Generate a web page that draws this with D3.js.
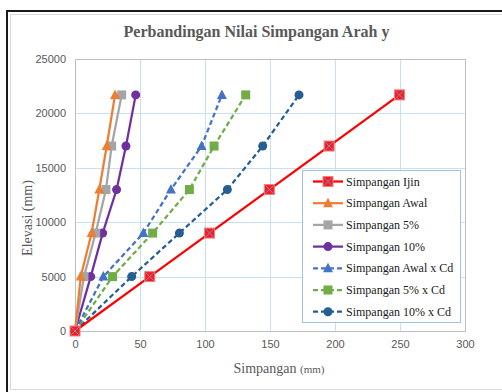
<!DOCTYPE html>
<html>
<head>
<meta charset="utf-8">
<script src="https://cdn.jsdelivr.net/npm/d3@7"></script>
<style>
  html, body { margin: 0; padding: 0; background: #fff; }
  svg { display: block; }
</style>
</head>
<body>
<script>
// Elevation levels (mm) and drift per series (mm)
const elevasi = [0, 5000, 9000, 13000, 17000, 21700];
const simpanganIjin = [0, 57.5, 103.5, 149.5, 195.5, 249.6];
const simpanganAwal = [0, 4.4, 12.8, 18.7, 24.4, 30.8];
const simpangan5 = [0, 6.9, 15.9, 23.8, 28.2, 35.9];
const simpangan10 = [0, 12.1, 21.3, 32.0, 39.2, 46.7];
const simpanganAwalCd = [0, 21.8, 52.6, 73.8, 97.4, 113.0];
const simpangan5Cd = [0, 28.9, 59.7, 88.0, 107.0, 131.3];
const simpangan10Cd = [0, 43.6, 80.3, 117.2, 144.4, 172.3];

const xTicks = [0, 50, 100, 150, 200, 250, 300];
const yTicks = [0, 5000, 10000, 15000, 20000, 25000];

const seriesNames = ["Simpangan Ijin", "Simpangan Awal", "Simpangan 5%", "Simpangan 10%",
  "Simpangan Awal x Cd", "Simpangan 5% x Cd", "Simpangan 10% x Cd"];
const seriesValues = [simpanganIjin, simpanganAwal, simpangan5, simpangan10,
  simpanganAwalCd, simpangan5Cd, simpangan10Cd];
const seriesColors = ["#ff0000", "#ed7d31", "#a5a5a5", "#7030a0", "#4472c4", "#70ad47", "#255e91"];
const seriesMarkers = ["squareX", "triangle", "square", "circle", "triangle", "square", "circle"];
const seriesDashed = [false, false, false, false, true, true, true];

const W = 502, H = 392;
const plot = { left: 75, right: 465, top: 59, bottom: 331 };

const svg = d3.select("body").append("svg").attr("width", W).attr("height", H);

// Surrounding frame
svg.append("rect").attr("width", W).attr("height", H).attr("fill", "#fff");
svg.append("line").attr("x1", 10.5).attr("x2", 10.5).attr("y1", 14).attr("y2", 389.5)
  .attr("stroke", "#d9d9d9").attr("stroke-width", 1);
svg.append("line").attr("x1", 10.5).attr("x2", W).attr("y1", 14.5).attr("y2", 14.5)
  .attr("stroke", "#d9d9d9").attr("stroke-width", 1);
svg.append("line").attr("x1", 10.5).attr("x2", W).attr("y1", 389.5).attr("y2", 389.5)
  .attr("stroke", "#d9d9d9").attr("stroke-width", 1);
svg.append("line").attr("x1", 7).attr("x2", 7).attr("y1", 10).attr("y2", H)
  .attr("stroke", "#1a1a1a").attr("stroke-width", 2);
svg.append("line").attr("x1", 6).attr("x2", W).attr("y1", 11).attr("y2", 11)
  .attr("stroke", "#1a1a1a").attr("stroke-width", 2);

const x = d3.scaleLinear().domain([0, 300]).range([plot.left, plot.right]);
const y = d3.scaleLinear().domain([0, 25000]).range([plot.bottom, plot.top]);

// Gridlines
const grid = svg.append("g");
grid.selectAll("line.v").data(xTicks.slice(1, -1)).join("line")
  .attr("x1", d => Math.round(x(d)) + 0.5).attr("x2", d => Math.round(x(d)) + 0.5)
  .attr("y1", plot.top).attr("y2", plot.bottom)
  .attr("stroke", "#c9dff2").attr("stroke-width", 1);
grid.selectAll("line.h").data(yTicks.slice(1, -1)).join("line")
  .attr("y1", d => Math.round(y(d)) + 0.5).attr("y2", d => Math.round(y(d)) + 0.5)
  .attr("x1", plot.left).attr("x2", plot.right)
  .attr("stroke", "#c9dff2").attr("stroke-width", 1);

// Plot area border
svg.append("rect")
  .attr("x", plot.left + 0.5).attr("y", plot.top + 0.5)
  .attr("width", plot.right - plot.left).attr("height", plot.bottom - plot.top)
  .attr("fill", "none").attr("stroke", "#bfbfbf").attr("stroke-width", 1);

// Axes
const xAxis = d3.axisBottom(x).tickValues(xTicks).tickFormat(d3.format("d")).tickSize(0).tickPadding(9);
const gx = svg.append("g").attr("transform", `translate(0,${plot.bottom})`).call(xAxis);
gx.select(".domain").remove();
gx.selectAll("text").attr("fill", "#595959").attr("font-family", "Liberation Sans, Arial, sans-serif").attr("font-size", 11);

const yAxis = d3.axisLeft(y).tickValues(yTicks).tickFormat(d3.format("d")).tickSize(0).tickPadding(9);
const gy = svg.append("g").attr("transform", `translate(${plot.left},0)`).call(yAxis);
gy.select(".domain").remove();
gy.selectAll("text").attr("fill", "#595959").attr("font-family", "Liberation Sans, Arial, sans-serif").attr("font-size", 11);

// Title
svg.append("text").attr("x", 256.5).attr("y", 37).attr("text-anchor", "middle")
  .attr("font-family", "Liberation Serif, Times New Roman, serif")
  .attr("font-weight", "bold").attr("font-size", 16).attr("fill", "#595959")
  .text("Perbandingan Nilai Simpangan Arah y");

// Axis titles
const xt = svg.append("text").attr("x", 279).attr("y", 373).attr("text-anchor", "middle")
  .attr("font-family", "Liberation Serif, Times New Roman, serif").attr("fill", "#595959");
xt.append("tspan").attr("font-size", 14).text("Simpangan ");
xt.append("tspan").attr("font-size", 11).text("(mm)");

svg.append("text").attr("transform", "translate(32,218) rotate(-90)").attr("text-anchor", "middle")
  .attr("font-family", "Liberation Serif, Times New Roman, serif").attr("font-size", 14)
  .attr("fill", "#595959").text("Elevasi (mm)");

// Marker drawing
function drawMarker(g, type, color, cx, cy) {
  if (type === "squareX") {
    g.append("rect").attr("x", cx - 5).attr("y", cy - 5).attr("width", 10).attr("height", 10)
      .attr("fill", "#ff1a1a").attr("stroke", "#f08080").attr("stroke-width", 1);
    g.append("path").attr("d", `M${cx - 4},${cy - 4}L${cx + 4},${cy + 4}M${cx - 4},${cy + 4}L${cx + 4},${cy - 4}`)
      .attr("stroke", "#6a8fd8").attr("stroke-width", 1);
  } else if (type === "square") {
    g.append("rect").attr("x", cx - 4.5).attr("y", cy - 4.5).attr("width", 9).attr("height", 9)
      .attr("fill", color);
  } else if (type === "circle") {
    g.append("circle").attr("cx", cx).attr("cy", cy).attr("r", 4.5).attr("fill", color);
  } else if (type === "triangle") {
    g.append("path").attr("d", `M${cx},${cy - 5.5}L${cx + 5},${cy + 4}L${cx - 5},${cy + 4}Z`)
      .attr("fill", color);
  }
}

// Series (drawn last-first so the first series sits on top)
const line = d3.line().x(d => x(d[0])).y(d => y(d[1]));
const order = [6, 5, 4, 3, 2, 1, 0];
order.forEach(i => {
  const pts = seriesValues[i].map((v, k) => [v, elevasi[k]]);
  const g = svg.append("g");
  g.append("path").datum(pts).attr("d", line).attr("fill", "none")
    .attr("stroke", seriesColors[i]).attr("stroke-width", 2.25)
    .attr("stroke-dasharray", seriesDashed[i] ? "5,3" : null);
  pts.forEach(p => drawMarker(g, seriesMarkers[i], seriesColors[i], x(p[0]), y(p[1])));
});

// Legend
const lg = svg.append("g");
lg.append("rect").attr("x", 302.5).attr("y", 170.5).attr("width", 158).attr("height", 152)
  .attr("fill", "#fff").attr("stroke", "#9dc3e6").attr("stroke-width", 1);
seriesNames.forEach((name, i) => {
  const cy = 181.5 + i * 21.7;
  lg.append("line").attr("x1", 313).attr("x2", 343).attr("y1", cy).attr("y2", cy)
    .attr("stroke", seriesColors[i]).attr("stroke-width", 2.25)
    .attr("stroke-dasharray", seriesDashed[i] ? "5,3" : null);
  drawMarker(lg, seriesMarkers[i], seriesColors[i], 328, cy);
  lg.append("text").attr("x", 346).attr("y", cy + 4)
    .attr("font-family", "Liberation Serif, Times New Roman, serif").attr("font-size", 12)
    .attr("fill", "#1a1a1a").text(name);
});
</script>
</body>
</html>
